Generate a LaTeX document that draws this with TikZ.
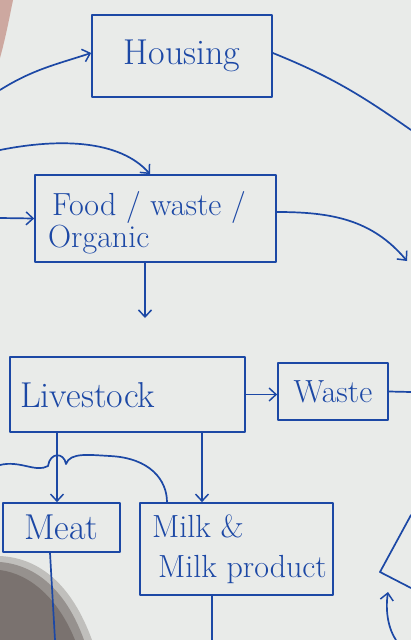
\documentclass[tikz,border=0pt]{standalone}
\usetikzlibrary{arrows.meta}
\definecolor{ink}{RGB}{28,72,165}
\definecolor{paper}{RGB}{233,235,233}
\definecolor{shadowc}{RGB}{100,90,86}
\definecolor{pinkc}{RGB}{205,168,160}
\begin{document}
\begin{tikzpicture}[x=1pt,y=-1pt,
  ink line/.style={draw=ink,line width=1.7pt,line cap=round,line join=round},
  box/.style={ink line,rectangle,inner sep=0pt,text=ink},
  arr/.style={ink line,-{Straight Barb[length=7pt,width=13pt,line width=1.5pt]}},
  conn/.style={ink line},
  bigtxt/.style={font=\fontsize{36}{40}\selectfont},
  midtxt/.style={font=\fontsize{32}{36}\selectfont}]
% paper
\fill[paper] (0,0) rectangle (411,640);
\useasboundingbox (0,0) rectangle (411,640);
\fill[pinkc] (0,0) -- (13,0) .. controls (9,20) and (5,40) .. (0,58) -- cycle;
\fill[shadowc,opacity=0.3] (0,556) .. controls (40,558) and (72,585) .. (92,640) -- (0,640) -- cycle;
\fill[shadowc,opacity=0.45] (0,562) .. controls (36,565) and (66,590) .. (84,640) -- (0,640) -- cycle;
\fill[shadowc,opacity=0.55] (0,570) .. controls (30,574) and (58,598) .. (75,640) -- (0,640) -- cycle;
% boxes
\node[box,minimum width=180pt,minimum height=82pt,bigtxt] (housing) at (182,56) {Housing};
\node[box,minimum width=241pt,minimum height=87pt] (food) at (155.5,218.5) {};
\node[text=ink,midtxt,anchor=west,inner sep=0pt] (foodtxt) at (52,207) {Food / waste /};
\node[text=ink,midtxt,anchor=west,inner sep=0pt] (organictxt) at (48,240) {Organic};
\node[box,minimum width=235pt,minimum height=75pt] (livestock) at (127.5,394.5) {};
\node[text=ink,bigtxt,anchor=west,inner sep=0pt] (livestocktxt) at (20,395) {Livestock};
\node[box,minimum width=110pt,minimum height=57pt,midtxt] (waste) at (333,391.5) {Waste};
\node[box,minimum width=117pt,minimum height=49pt,bigtxt] (meat) at (61.5,527.5) {Meat};
\node[box,minimum width=193pt,minimum height=92pt] (milk) at (236.5,549) {};
\node[text=ink,midtxt,anchor=west,inner sep=0pt] (milktxt1) at (152,526) {Milk \&};
\node[text=ink,midtxt,anchor=west,inner sep=0pt] (milktxt2) at (158,570) {Milk product};
% free ends
\coordinate (cL1) at (0,90);
\coordinate (cR1) at (411,130);
\coordinate (cL2) at (0,150);
\coordinate (cL3) at (0,218);
\coordinate (cF) at (145,318);
\coordinate (cR2) at (407,261);
\coordinate (cR3) at (411,392);
\coordinate (cL4) at (0,465);
\coordinate (cB1) at (55,640);
\coordinate (cB2) at (212,640);
\coordinate (cB3) at (396,640);
\coordinate (cT1) at (388,592);
% connectors
\draw[arr] (cL1) to[out=32,in=198] ([yshift=3pt]housing.west);
\draw[conn] ([yshift=3pt]housing.east) to[out=-22,in=145] (cR1);
\draw[arr] (cL2) .. controls (60,138) and (120,140) .. ([xshift=-5.5pt]food.north);
\draw[arr] (cL3) -- (food.west);
\draw[arr] ([xshift=-10.5pt]food.south) -- (cF);
\draw[arr] ([yshift=6.5pt]food.east) to[out=0,in=130] (cR2);
\draw[arr] (livestock.east) -- (livestock.east -| waste.west);
\draw[conn] (waste.east) -- (cR3);
\draw[arr] ([xshift=-4.5pt]meat.north |- livestock.south) -- ([xshift=-4.5pt]meat.north);
\draw[arr] ([xshift=-34.5pt]milk.north |- livestock.south) -- ([xshift=-34.5pt]milk.north);
\draw[conn] (cL4) .. controls (20,460) and (36,473) .. (48,466)
  .. controls (50,452) and (64,452) .. (66,464)
  .. controls (70,452) and (90,455) .. (110,456)
  .. controls (150,458) and (167,480) .. ([xshift=-69.5pt]milk.north);
\draw[conn] ([xshift=-11.5pt]meat.south) -- (cB1);
\draw[conn] ([xshift=-24.5pt]milk.south) -- (cB2);
\draw[conn] (411,515) -- (380,572) -- (411,588);
\draw[arr] (cB3) .. controls (386,625) and (386,605) .. (cT1);
\end{tikzpicture}
\end{document}
